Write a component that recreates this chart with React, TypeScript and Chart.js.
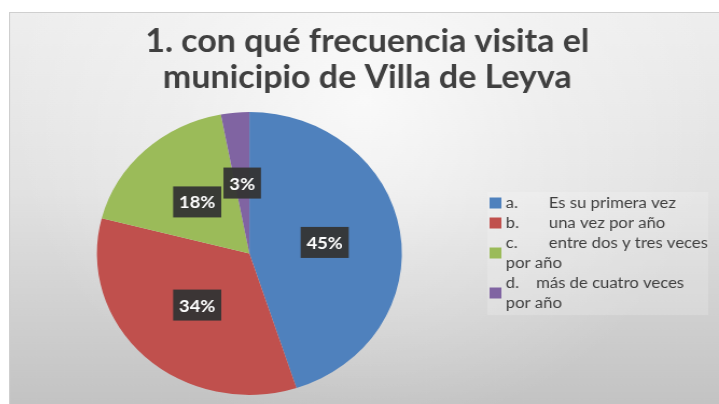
import React, { useEffect, useRef } from "react";
import { Chart, registerables } from "chart.js";

Chart.register(...registerables);

const TITLE_LINES = ["1. con qué frecuencia visita el", "municipio de Villa de Leyva"];
const CATEGORIES = [
  "a.\tEs su primera vez",
  "b.\tuna vez por año",
  "c.\tentre dos y tres veces por año",
  "d.    más de cuatro veces por año",
];
const VALUES = [45, 34, 18, 3];
const COLORS = ["#4f81bd", "#c0504d", "#9bbb59", "#8064a2"];

const W = 659;
const H = 392;
const SX = 710 / 659;
const FONT = "Lato, 'Open Sans', sans-serif";

const bgPlugin = {
  id: "bgPanel",
  beforeDraw(chart: any) {
    const ctx = chart.ctx as CanvasRenderingContext2D;
    ctx.save();
    const lg = ctx.createLinearGradient(0, 0, 0, H);
    lg.addColorStop(0, "#eeeeee");
    lg.addColorStop(0.45, "#e2e2e2");
    lg.addColorStop(1, "#c3c3c3");
    ctx.fillStyle = lg;
    ctx.fillRect(0, 0, W, H);
    const rg = ctx.createRadialGradient(W / 2, 90, 0, W / 2, 90, 330);
    rg.addColorStop(0, "rgba(255,255,255,0.75)");
    rg.addColorStop(0.5, "rgba(255,255,255,0.3)");
    rg.addColorStop(1, "rgba(255,255,255,0)");
    ctx.fillStyle = rg;
    ctx.fillRect(0, 0, W, H);
    ctx.strokeStyle = "#cfcfcf";
    ctx.lineWidth = 1;
    ctx.strokeRect(0.5, 0.5, W, H);
    ctx.restore();
  },
};

const titlePlugin = {
  id: "titleText",
  afterDraw(chart: any) {
    const ctx = chart.ctx as CanvasRenderingContext2D;
    ctx.save();
    ctx.fillStyle = "#404040";
    ctx.font = `bold 31.5px ${FONT}`;
    ctx.textAlign = "center";
    ctx.textBaseline = "alphabetic";
    const baselines = [40, 76];
    TITLE_LINES.forEach((t, i) => ctx.fillText(t, W / 2 + 3, baselines[i]));
    ctx.restore();
  },
};

const labelPlugin = {
  id: "sliceLabels",
  afterDatasetsDraw(chart: any) {
    const ctx = chart.ctx as CanvasRenderingContext2D;
    const meta = chart.getDatasetMeta(0);
    const data = chart.data.datasets[0].data as number[];
    const total = data.reduce((a, b) => a + b, 0);
    ctx.save();
    ctx.font = `bold 17px ${FONT}`;
    ctx.textAlign = "center";
    ctx.textBaseline = "middle";
    meta.data.forEach((arc: any, i: number) => {
      const p = arc.tooltipPosition();
      const txt = `${Math.round((data[i] / total) * 100)}%`;
      const tw = ctx.measureText(txt).width;
      const bw = tw + 11;
      const bh = 31;
      ctx.fillStyle = "rgba(52,52,52,0.95)";
      ctx.fillRect(p.x - bw / 2, p.y - bh / 2, bw, bh);
      ctx.fillStyle = "#ffffff";
      ctx.fillText(txt, p.x, p.y + 1);
    });
    ctx.restore();
  },
};

const legendPlugin = {
  id: "sideLegend",
  afterDraw(chart: any) {
    const ctx = chart.ctx as CanvasRenderingContext2D;
    const colors = chart.data.datasets[0].backgroundColor as string[];
    const labels = chart.data.labels as string[];
    const x0 = 446;
    const textX = 461;
    const tab = 40;
    const maxRight = 652;
    const lineH = 20;
    let y = 191;
    ctx.save();
    ctx.fillStyle = "rgba(255,255,255,0.18)";
    ctx.fillRect(444, 180, 205, 123);
    ctx.font = `15.5px ${FONT}`;
    ctx.textBaseline = "middle";
    ctx.textAlign = "left";
    labels.forEach((lab, i) => {
      const lines: { x: number; text: string }[] = [];
      let prefix = "";
      let rest = lab;
      let startX = textX;
      if (lab.includes("\t")) {
        const parts = lab.split("\t");
        prefix = parts[0];
        rest = parts[1];
        startX = textX + tab;
      }
      const words = rest.split(" ");
      let cur = "";
      let curX = startX;
      words.forEach((w) => {
        const test = cur ? cur + " " + w : w;
        if (cur.trim() && curX + ctx.measureText(test).width > maxRight) {
          lines.push({ x: curX, text: cur });
          cur = w;
          curX = textX;
        } else {
          cur = test;
        }
      });
      if (cur) lines.push({ x: curX, text: cur });
      const n = lines.length;
      const cy = y + ((n - 1) * lineH) / 2;
      ctx.fillStyle = colors[i];
      ctx.fillRect(x0, cy - 5.5, 11, 11);
      ctx.fillStyle = "#404040";
      if (prefix) ctx.fillText(prefix, textX, y);
      lines.forEach((ln, k) => ctx.fillText(ln.text, ln.x, y + k * lineH));
      y += n * lineH;
    });
    ctx.restore();
  },
};

export default function App() {
  const ref = useRef<HTMLCanvasElement>(null);
  useEffect(() => {
    const chart = new Chart(ref.current as HTMLCanvasElement, {
      type: "pie",
      data: {
        labels: CATEGORIES,
        datasets: [{ data: VALUES, backgroundColor: COLORS, borderWidth: 0 }],
      },
      options: {
        responsive: false,
        animation: false,
        devicePixelRatio: 1,
        layout: { padding: { top: 100, bottom: 9, left: 81.6, right: 294.4 } },
        plugins: {
          legend: { display: false },
          title: { display: false },
          tooltip: { enabled: false },
        },
      },
      plugins: [bgPlugin, titlePlugin, labelPlugin, legendPlugin],
    } as any);
    return () => chart.destroy();
  }, []);
  return (
    <div
      style={{
        position: "fixed",
        left: 9,
        top: 12,
        width: W,
        height: H,
        transform: `scaleX(${SX})`,
        transformOrigin: "0 0",
      }}
    >
      <canvas ref={ref} width={W} height={H} style={{ width: W, height: H, display: "block" }} />
    </div>
  );
}
